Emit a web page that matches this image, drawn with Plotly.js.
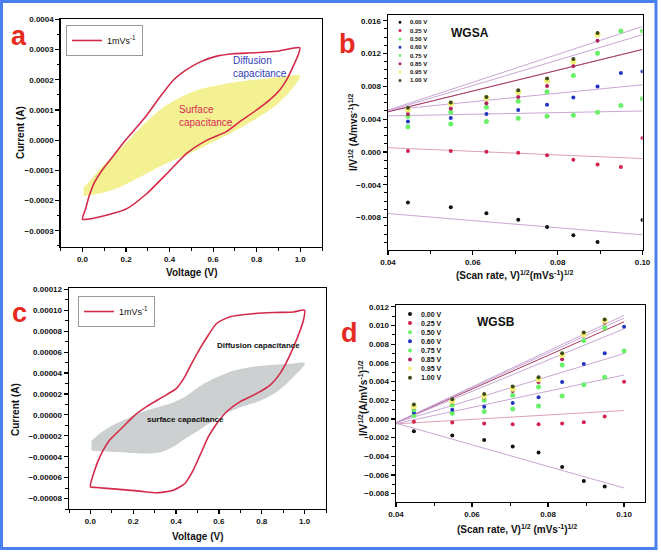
<!DOCTYPE html>
<html>
<head>
<meta charset="utf-8">
<script src="https://cdn.plot.ly/plotly-3.0.1.min.js"></script>
<style>html,body{margin:0;padding:0;background:#fff;}#chart{width:661px;height:552px;}</style>
</head>
<body>
<div id="chart"></div>
<script>
// ---------- DATA ----------
// Panel a (WGSA CV at 1 mV/s)
const cvA_V = [0,0.015,0.030,0.053,0.091,0.145,0.198,0.252,0.297,0.358,0.419,0.473,0.541,0.617,0.694,0.785,0.892,0.998,
  0.991,0.968,0.938,0.907,0.861,0.800,0.724,0.663,0.572,0.480,0.389,0.297,0.206,0.114,0.023,0];
const cvA_I = [-0.000262,-0.000226,-0.000187,-0.000143,-0.000099,-0.000049,0.0,0.000045,0.000084,0.000145,0.000200,0.000231,0.000259,0.000278,0.000286,0.000289,0.000294,0.000306,
  0.000283,0.000245,0.000200,0.000167,0.000134,0.000100,0.000062,0.000029,0.0,-0.000043,-0.000110,-0.000176,-0.000226,-0.000248,-0.000262,-0.000262];
const surfA_V = [0.005,0.038,0.084,0.160,0.236,0.312,0.389,0.465,0.541,0.694,0.846,0.998,
  0.998,0.953,0.892,0.816,0.724,0.617,0.511,0.389,0.267,0.160,0.084,0.005];
const surfA_I = [-0.000156,-0.000132,-0.000093,-0.000038,0.000018,0.000073,0.000117,0.000147,0.000169,0.000191,0.000203,0.000214,
  0.000206,0.000162,0.000117,0.000079,0.000040,0.0,-0.000038,-0.000076,-0.000121,-0.000159,-0.000176,-0.000185];

// Panel c (WGSB CV at 1 mV/s)
const cvC_V = [0,0.020,0.044,0.090,0.153,0.200,0.262,0.340,0.402,0.441,0.473,0.512,0.551,0.590,0.652,0.746,0.855,0.949,1.0,
  0.995,0.980,0.949,0.917,0.886,0.839,0.777,0.699,0.636,0.590,0.551,0.512,0.480,0.441,0.387,0.309,0.231,0.122,0.028,0];
const cvC_I = [-0.0000688,-0.0000529,-0.0000401,-0.0000241,-0.0000114,-0.0000016,0.0000078,0.0000174,0.0000253,0.0000365,0.0000493,0.0000636,0.0000764,0.0000876,0.0000939,0.0000965,0.0000978,0.0000984,0.0001,
  0.0000907,0.0000812,0.0000652,0.0000509,0.0000397,0.0000285,0.0000205,0.0000126,0.0000030,-0.0000082,-0.0000209,-0.0000385,-0.0000528,-0.0000656,-0.0000720,-0.0000745,-0.0000729,-0.0000710,-0.0000694,-0.0000688];
const surfC_V = [0.005,0.044,0.106,0.168,0.231,0.309,0.387,0.449,0.512,0.590,0.668,0.761,0.855,0.933,1.0,
  1.0,0.964,0.917,0.855,0.793,0.699,0.636,0.574,0.512,0.449,0.387,0.324,0.231,0.122,0.012,0.005];
const surfC_I = [-0.0000248,-0.0000178,-0.0000098,-0.0000040,0.0000020,0.0000071,0.0000119,0.0000183,0.0000276,0.0000359,0.0000422,0.0000461,0.0000480,0.0000489,0.0000499,
  0.0000480,0.0000397,0.0000301,0.0000199,0.0000135,0.0000071,0.0000020,-0.0000056,-0.0000139,-0.0000219,-0.0000305,-0.0000359,-0.0000369,-0.0000356,-0.0000343,-0.0000337];

// Panels b, d: I/V^1/2 vs (scan rate)^1/2
const scanRate = [0.0447,0.0548,0.0632,0.0707,0.0775,0.0837,0.0894,0.0949,0.1000];
const potentials = ['0.00 V','0.25 V','0.50 V','0.60 V','0.75 V','0.85 V','0.95 V','1.00 V'];
const wgsa000 = [-0.00615,-0.00673,-0.00747,-0.00825,-0.00915,-0.01014,-0.01097,null,-0.00829];
const wgsa025 = [0.00011,0.00011,0.00003,-0.00010,-0.00039,-0.00096,-0.00154,-0.00183,0.00171];
const wgsa050 = [0.00307,0.00340,0.00373,0.00410,0.00435,0.00447,0.00484,0.00567,0.00649];
const wgsa060 = [0.00373,0.00414,0.00464,0.00513,0.00575,0.00665,0.00797,0.00962,0.00982];
const wgsa075 = [0.00435,0.00484,0.00546,0.00620,0.00735,0.00933,0.01205,0.01476,0.01476];
const wgsa085 = [0.00464,0.00530,0.00595,0.00670,0.00805,0.01048,0.01357,null,null];
const wgsa095 = [0.00517,0.00587,0.00657,0.00727,0.00867,0.01102,0.01431,null,null];
const wgsa100 = [0.00538,0.00604,0.00670,0.00752,0.00896,0.01135,0.01452,null,null];
const fitX = [0.04,0.10];
const wgsaFitStart = [-0.0075,0.00052,0.0044,0.0051,0.0049,0.0049,0.0050,0.0051];
const wgsaFitEnd   = [-0.0101,-0.0008,0.0050,0.0082,0.0125,0.0125,0.0143,0.0153];

const wgsb000 = [-0.00131,-0.00177,-0.00227,-0.00295,-0.00359,-0.00515,-0.00665,-0.00725,null];
const wgsb025 = [-0.00031,-0.00039,-0.00049,-0.00056,-0.00056,-0.00049,-0.00035,0.00025,0.00399];
const wgsb050 = [0.00036,0.00061,0.00079,0.00107,0.00139,0.00246,0.00367,0.00445,0.00727];
const wgsb060 = [0.00068,0.00097,0.00129,0.00171,0.00232,0.00396,0.00588,0.00702,0.00986];
const wgsb075 = [0.00097,0.00150,0.00200,0.00253,0.00342,0.00577,0.00840,0.00976,null];
const wgsb085 = [0.00122,0.00175,0.00228,0.00300,0.00396,0.00638,0.00894,0.01029,null];
const wgsb095 = [0.00136,0.00193,0.00246,0.00324,0.00424,0.00684,0.00908,0.01050,null];
const wgsb100 = [0.00154,0.00211,0.00267,0.00346,0.00445,0.00702,0.00926,0.01065,null];
const wgsbFitStart = [-0.00046,-0.00053,-0.0005,-0.00038,-0.0004,-0.0004,-0.0004,-0.0004];
const wgsbFitEnd   = [-0.0074,0.0009,0.0047,0.0070,0.00965,0.0104,0.0108,0.0111];

// ---------- STYLE ----------
const W = 661, H = 552;
const px = x => x / W;
const py = y => 1 - y / H;
const FONT = 'Liberation Sans, Arial, sans-serif';
const markerColors = ['#111111','#d4204c','#6cf06c','#2233c0','#6cf06c','#b02060','#f2ef78','#3f4a1e'];
const markerSizes  = [4,4,5,4,5,4,6,4];
const fitColors = ['#c9a6d6','#d9a0b8','#c9a6d6','#c9a6d6','#c9a6d6','#a83a5c','#c9a6d6','#c9a6d6'];
const cvRed = '#d42a4a';

const wgsa = [wgsa000,wgsa025,wgsa050,wgsa060,wgsa075,wgsa085,wgsa095,wgsa100];
const wgsb = [wgsb000,wgsb025,wgsb050,wgsb060,wgsb075,wgsb085,wgsb095,wgsb100];

const traces = [];
// Panel a
traces.push({x: surfA_V, y: surfA_I, xaxis:'x', yaxis:'y', type:'scatter', mode:'lines', fill:'toself',
  fillcolor:'rgba(240,236,110,0.75)', line:{width:0, color:'rgba(0,0,0,0)', shape:'spline', smoothing:0.8}, showlegend:false, hoverinfo:'skip'});
traces.push({x: cvA_V, y: cvA_I, xaxis:'x', yaxis:'y', type:'scatter', mode:'lines',
  line:{color:cvRed, width:1.6, shape:'spline', smoothing:0.6}, name:'1mVs<sup>-1</sup>', legend:'legend', showlegend:true});
// Panel c
traces.push({x: surfC_V, y: surfC_I, xaxis:'x3', yaxis:'y3', type:'scatter', mode:'lines', fill:'toself',
  fillcolor:'rgba(200,203,203,0.9)', line:{width:0, color:'rgba(0,0,0,0)', shape:'spline', smoothing:0.8}, showlegend:false, hoverinfo:'skip'});
traces.push({x: cvC_V, y: cvC_I, xaxis:'x3', yaxis:'y3', type:'scatter', mode:'lines',
  line:{color:cvRed, width:1.6, shape:'spline', smoothing:0.6}, name:'1mVs<sup>-1</sup>', legend:'legend2', showlegend:true});
// Panels b and d: fit lines then markers
for (let i = 0; i < potentials.length; i++) {
  traces.push({x: fitX, y: [wgsaFitStart[i], wgsaFitEnd[i]], xaxis:'x2', yaxis:'y2', type:'scatter', mode:'lines',
    line:{color: fitColors[i], width:1}, showlegend:false, hoverinfo:'skip'});
  traces.push({x: fitX, y: [wgsbFitStart[i], wgsbFitEnd[i]], xaxis:'x4', yaxis:'y4', type:'scatter', mode:'lines',
    line:{color: fitColors[i], width:1}, showlegend:false, hoverinfo:'skip'});
}
for (let i = 0; i < potentials.length; i++) {
  traces.push({x: scanRate, y: wgsa[i], xaxis:'x2', yaxis:'y2', type:'scatter', mode:'markers', name: potentials[i],
    marker:{color: markerColors[i], size: markerSizes[i], line:{width:0}}, showlegend:false});
  traces.push({x: scanRate, y: wgsb[i], xaxis:'x4', yaxis:'y4', type:'scatter', mode:'markers', name: potentials[i],
    marker:{color: markerColors[i], size: markerSizes[i], line:{width:0}}, showlegend:false});
}

function minorTicks(d) { return {ticks:'outside', ticklen:2.5, tickwidth:1, tickcolor:'#000', dtick:d, showgrid:false}; }
function axis(opts) {
  return Object.assign({
    showline:true, linecolor:'#000', linewidth:1.4, mirror:true,
    ticks:'outside', ticklen:4, tickwidth:1.2, tickcolor:'#000',
    showgrid:false, zeroline:false, tick0:0,
    tickfont:{family:FONT, size:8, weight:'bold', color:'#111'}
  }, opts);
}
const titleFont = {family:FONT, size:10, weight:'bold', color:'#111'};

const layout = {
  width: W, height: H,
  margin:{l:0,r:0,t:0,b:0},
  paper_bgcolor:'#fff', plot_bgcolor:'#fff',
  showlegend:true,
  xaxis:  axis({domain:[px(60.7), px(322)], anchor:'y', range:[-0.1,1.1], dtick:0.2, tickformat:'.1f', minor:minorTicks(0.1)}),
  yaxis:  axis({domain:[py(247), py(19.3)], anchor:'x', range:[-0.000354,0.0004], dtick:0.0001, tickformat:'.4f', minor:minorTicks(0.00005)}),
  xaxis2: axis({domain:[px(388), px(642.5)], anchor:'y2', range:[0.04,0.10], dtick:0.02, tickformat:'.2f', minor:minorTicks(0.01)}),
  yaxis2: axis({domain:[py(250), py(15)], anchor:'x2', range:[-0.01195,0.0167], dtick:0.004, tickformat:'.3f', minor:minorTicks(0.001)}),
  xaxis3: axis({domain:[px(69), px(326)], anchor:'y3', range:[-0.1,1.1], dtick:0.2, tickformat:'.1f', minor:minorTicks(0.1)}),
  yaxis3: axis({domain:[py(509), py(288.3)], anchor:'x3', range:[-0.00009,0.000121], dtick:0.00002, tickformat:'.5f', minor:minorTicks(0.00001)}),
  xaxis4: axis({domain:[px(396), px(645)], anchor:'y4', range:[0.04,0.1055], dtick:0.02, tickformat:'.2f', minor:minorTicks(0.01)}),
  yaxis4: axis({domain:[py(502), py(305)], anchor:'x4', range:[-0.0089,0.0122], dtick:0.002, tickformat:'.3f', minor:minorTicks(0.001)}),
  legend: {x:px(66), y:py(25), xanchor:'left', yanchor:'top', bgcolor:'#fff', bordercolor:'#999', borderwidth:1,
    font:{family:FONT, size:9, color:'#111'}, itemwidth:30, tracegroupgap:0},
  legend2: {x:px(78), y:py(296), xanchor:'left', yanchor:'top', bgcolor:'#fff', bordercolor:'#999', borderwidth:1,
    font:{family:FONT, size:9, color:'#111'}, itemwidth:30, tracegroupgap:0},
  shapes: [
    {type:'rect', xref:'paper', yref:'paper', x0:px(1.5), x1:px(656), y0:py(548.5), y1:py(1.5),
     line:{color:'#4a80ee', width:3}, fillcolor:'rgba(0,0,0,0)', layer:'above'}
  ],
  annotations: []
};

const ann = layout.annotations;
function paperText(t, x, y, font, extra) {
  ann.push(Object.assign({text:t, xref:'paper', yref:'paper', x:px(x), y:py(y), showarrow:false,
    xanchor:'center', yanchor:'middle', font:font}, extra || {}));
}
// axis titles
paperText('Voltage (V)', 191, 272, titleFont);
paperText('Current (A)', 21, 133, titleFont, {textangle:-90});
paperText('(Scan rate, V)<sup>1/2</sup>(mVs<sup>-1</sup>)<sup>1/2</sup>', 515, 275, titleFont);
paperText('I/V<sup>1/2</sup> (A/mvs<sup>-1</sup>)<sup>1/2</sup>', 353, 132, titleFont, {textangle:-90});
paperText('Voltage (V)', 197, 536, titleFont);
paperText('Current (A)', 15, 410, titleFont, {textangle:-90});
paperText('(Scan rate, V)<sup>1/2</sup> (mVs<sup>-1</sup>)<sup>1/2</sup>', 517, 529, titleFont);
paperText('I/V<sup>1/2</sup>(A/mVs<sup>-1</sup>)<sup>1/2</sup>', 363, 398, titleFont, {textangle:-90});

// panel letters
const letterFont = {family:FONT, size:27, weight:'bold', color:'#e52a1f'};
paperText('a', 19, 36, letterFont); paperText('b', 347, 44, letterFont);
paperText('c', 19, 313, letterFont); paperText('d', 349, 333, letterFont);

ann.push({text:'Diffusion<br>capacitance', xref:'x', yref:'y', x:0.683, y:0.000243, showarrow:false, xanchor:'left', yanchor:'middle', align:'left',
  font:{family:FONT, size:10, color:'#3340b8'}});
ann.push({text:'Surface<br>capacitance', xref:'x', yref:'y', x:0.434, y:0.000080, showarrow:false, xanchor:'left', yanchor:'middle', align:'left',
  font:{family:FONT, size:10, color:'#d42a55'}});
ann.push({text:'Diffusion capacitance', xref:'x3', yref:'y3', x:0.582, y:0.0000662, showarrow:false, xanchor:'left', yanchor:'middle',
  font:{family:FONT, size:8, weight:'bold', color:'#111'}});
ann.push({text:'surface capacitance', xref:'x3', yref:'y3', x:0.254, y:-0.000004, showarrow:false, xanchor:'left', yanchor:'middle',
  font:{family:FONT, size:8, weight:'bold', color:'#111'}});
paperText('WGSA', 470, 33, {family:FONT, size:12, weight:'bold', color:'#111'});
paperText('WGSB', 496, 322, {family:FONT, size:12, weight:'bold', color:'#111'});

// compact in-plot legends for b and d (markers as small circles, labels as text)
for (let i = 0; i < potentials.length; i++) {
  const yb = 22.3 + i * 8.3;
  layout.shapes.push({type:'circle', xref:'paper', yref:'paper', x0:px(398.5), x1:px(401.5), y0:py(yb+1.5), y1:py(yb-1.5),
    fillcolor:markerColors[i], line:{width:0}});
  paperText(potentials[i], 408, yb, {family:FONT, size:6, weight:'bold', color:'#111'}, {xanchor:'left'});
  const yd = 314 + i * 9.1;
  layout.shapes.push({type:'circle', xref:'paper', yref:'paper', x0:px(408), x1:px(412), y0:py(yd+2), y1:py(yd-2),
    fillcolor:markerColors[i], line:{width:0}});
  paperText(potentials[i], 419, yd, {family:FONT, size:7, weight:'bold', color:'#111'}, {xanchor:'left'});
}

Plotly.newPlot('chart', traces, layout, {displayModeBar:false, staticPlot:true});
</script>
</body>
</html>
